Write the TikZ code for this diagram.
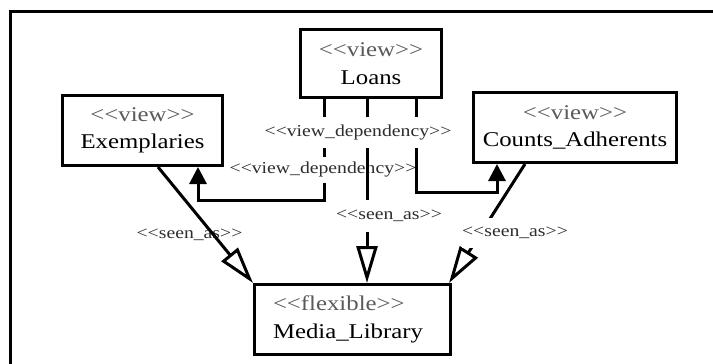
\documentclass[tikz,border=0pt]{standalone}
\usepackage{fontspec}
\setmainfont{Liberation Serif}[FakeStretch=1.18,Ligatures=TeXOff]
\usetikzlibrary{arrows.meta}
\definecolor{stgray}{RGB}{90,90,90}
\definecolor{lblgray}{RGB}{45,45,45}
\newcommand\stereo[1]{\textcolor{stgray}{<<#1>>}}
\begin{document}
\begin{tikzpicture}[x=1pt,y=-1pt,
  box/.style={draw, line width=3pt, fill=white, align=center, inner sep=0pt,
    font=\fontsize{21pt}{27.5pt}\selectfont},
  lbl/.style={inner xsep=0pt, inner ysep=0pt, text=lblgray,
    font=\fontsize{16.7pt}{18pt}\selectfont},
  conn/.style={line width=3pt},
  dep/.style={conn, -{Triangle[length=17pt,width=17pt]}},
  seen/.style={conn, -{Triangle[open,length=37pt,width=21pt]}}
]
\useasboundingbox (0,0) rectangle (713,364);
\clip (0,0) rectangle (713,364);
\draw[line width=3pt] (10,400) -- (10,11) -- (740,11);

\node[box, minimum width=141pt, minimum height=68pt] (loans) at (371,63.5) {\stereo{view}\\Loans};
\node[box, minimum width=160pt, minimum height=70pt] (exem) at (142.5,130.5) {\stereo{view}\\Exemplaries};
\node[box, minimum width=203pt, minimum height=70pt] (counts) at (575,127.5) {\stereo{view}\\Counts\_Adherents};
\node[box, text width=159pt, inner xsep=18.5pt, align=left, minimum height=70pt] (media) at (352.5,319.5) {\stereo{flexible}\\Media\_Library};

% left seen_as (label under the line)
\node[lbl] (saleft) at (189.5,235) {<<seen\_as>>};
\draw[seen] ([xshift=15.5pt]exem.south) -- (media.north west);

% left view dependency
\draw[dep] ([xshift=-47pt]loans.south) -- ++(0,101) -| ([xshift=55.5pt]exem.south);
\node[lbl, fill=white, minimum height=26pt] (vdtwo) at (323,170) {<<view\_dependency>>};

% middle seen_as
\draw[seen] ([xshift=-4pt]loans.south) -- ([xshift=14.5pt]media.north);
\node[lbl, fill=white, minimum height=32pt] (samid) at (389,216) {<<seen\_as>>};

% right view dependency
\draw[dep] ([xshift=45pt]loans.south) -- ++(0,93.5) -| ([xshift=-78pt]counts.south);
\node[lbl, fill=white, minimum height=31pt] (vdone) at (358,132.5) {<<view\_dependency>>};

% right seen_as (label over the line)
\draw[seen] ([xshift=-50pt]counts.south) -- ([xshift=-3pt]media.north east);
\node[lbl, fill=white, minimum height=30pt] (saright) at (515,233) {<<seen\_as>>};
\end{tikzpicture}
\end{document}
